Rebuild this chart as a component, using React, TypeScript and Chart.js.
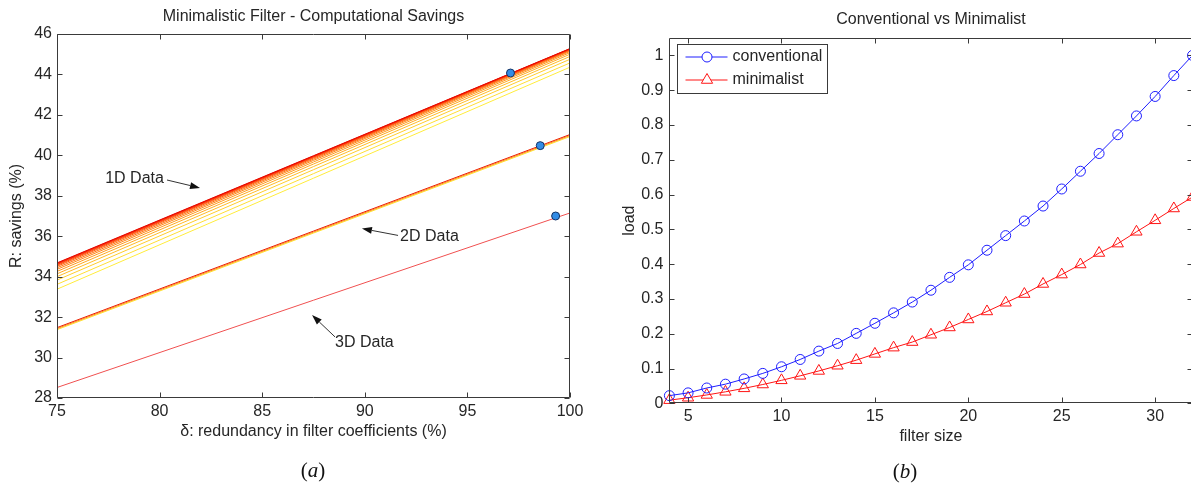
import React, { useEffect, useRef } from 'react';
import { Chart, registerables } from 'chart.js';

Chart.register(...registerables);

const FONT = "'Liberation Sans', Arial, Helvetica, sans-serif";
const TEXT = '#262626';
const FRAME = '#3a3a3a';

// ---------- Left panel (a) ----------
const titleA = 'Minimalistic Filter - Computational Savings';
const xTitleA = 'δ: redundancy in filter coefficients (%)';
const yTitleA = 'R: savings (%)';
const redundancyEnds = [75, 100];

// 1D data bundle, listed from the bottom (yellow) line to the top (red) line
const oneDStart = [33.38, 33.62, 33.83, 34.0, 34.14, 34.26, 34.36, 34.44, 34.51, 34.56, 34.6, 34.63, 34.66, 34.68];
const oneDEnd = [44.36, 44.57, 44.75, 44.89, 45.0, 45.08, 45.14, 45.18, 45.21, 45.23, 45.25, 45.26, 45.27, 45.28];
const oneDColors = [
  'rgb(255,236,60)', 'rgb(255,222,52)', 'rgb(255,205,45)', 'rgb(255,188,40)', 'rgb(255,170,34)',
  'rgb(255,152,28)', 'rgb(255,134,23)', 'rgb(255,116,18)', 'rgb(255,98,14)', 'rgb(255,80,10)',
  'rgb(255,62,6)', 'rgb(250,44,4)', 'rgb(240,26,2)', 'rgb(230,10,0)',
];

// 2D data bundle
const twoDStart = [31.38, 31.43, 31.48];
const twoDEnd = [40.93, 40.98, 41.03];
const twoDColors = ['rgb(255,225,40)', 'rgb(255,140,20)', 'rgb(235,30,0)'];

// 3D data
const threeDStart = [28.52];
const threeDEnd = [37.15];
const threeDColors = ['rgb(240,80,80)'];

// highlighted points
const dotRedundancy = [97.1, 98.55, 99.3];
const dotSavings = [44.07, 40.48, 37.0];

// annotations (data coordinates)
const noteLabels = ['1D Data', '2D Data', '3D Data'];
const noteTextX = [77.35, 91.72, 88.55];
const noteTextY = [38.83, 35.96, 30.72];
const noteTailX = [80.36, 91.62, 88.55];
const noteTailY = [38.78, 36.04, 31.02];
const noteHeadX = [81.97, 89.86, 87.43];
const noteHeadY = [38.39, 36.38, 32.1];

// ---------- Right panel (b) ----------
const titleB = 'Conventional vs Minimalist';
const xTitleB = 'filter size';
const yTitleB = 'load';
const filterSizes = [4, 5, 6, 7, 8, 9, 10, 11, 12, 13, 14, 15, 16, 17, 18, 19, 20, 21, 22, 23, 24, 25, 26, 27, 28, 29, 30, 31, 32];
const conventionalLoad = [0.022, 0.03, 0.044, 0.055, 0.07, 0.086, 0.105, 0.126, 0.15, 0.172, 0.201, 0.23, 0.26, 0.291, 0.325, 0.362, 0.398, 0.44, 0.482, 0.524, 0.567, 0.616, 0.667, 0.718, 0.772, 0.826, 0.882, 0.942, 1.0];
const minimalistLoad = [0.009, 0.016, 0.024, 0.033, 0.043, 0.054, 0.066, 0.079, 0.093, 0.108, 0.124, 0.142, 0.16, 0.176, 0.197, 0.218, 0.241, 0.264, 0.289, 0.314, 0.343, 0.37, 0.399, 0.432, 0.459, 0.493, 0.526, 0.56, 0.593];
const seriesNames = ['conventional', 'minimalist'];
const BLUE = 'rgb(30,30,255)';
const RED = 'rgb(255,20,20)';

const font16 = { family: FONT, size: 16, weight: 'normal' as const };

const framePlugin = {
  id: 'matlabFrame',
  afterDatasetsDraw(chart: any) {
    const { ctx, chartArea } = chart;
    const xs = chart.scales.x;
    const ys = chart.scales.y;
    const L = Math.round(chartArea.left) + 0.5;
    const R = Math.round(chartArea.right) - 0.5;
    const T = Math.round(chartArea.top) + 0.5;
    const B = Math.round(chartArea.bottom) - 0.5;
    const tl = 5;
    ctx.save();
    ctx.strokeStyle = FRAME;
    ctx.lineWidth = 1;
    ctx.beginPath();
    ctx.rect(L, T, R - L, B - T);
    xs.ticks.forEach((t: any) => {
      const px = Math.round(xs.getPixelForValue(t.value)) + 0.5;
      ctx.moveTo(px, B);
      ctx.lineTo(px, B - tl);
      ctx.moveTo(px, T);
      ctx.lineTo(px, T + tl);
    });
    ys.ticks.forEach((t: any) => {
      const py = Math.round(ys.getPixelForValue(t.value)) + 0.5;
      ctx.moveTo(L, py);
      ctx.lineTo(L + tl, py);
      ctx.moveTo(R, py);
      ctx.lineTo(R - tl, py);
    });
    ctx.stroke();
    ctx.restore();
  },
};

function drawArrow(ctx: CanvasRenderingContext2D, x1: number, y1: number, x2: number, y2: number) {
  const ang = Math.atan2(y2 - y1, x2 - x1);
  const len = 10;
  const w = 3.5;
  const bx = x2 - len * Math.cos(ang);
  const by = y2 - len * Math.sin(ang);
  ctx.beginPath();
  ctx.moveTo(x1, y1);
  ctx.lineTo(bx, by);
  ctx.stroke();
  ctx.beginPath();
  ctx.moveTo(x2, y2);
  ctx.lineTo(bx + w * Math.sin(ang), by - w * Math.cos(ang));
  ctx.lineTo(bx - w * Math.sin(ang), by + w * Math.cos(ang));
  ctx.closePath();
  ctx.fill();
}

const notesPlugin = {
  id: 'arrowNotes',
  afterDatasetsDraw(chart: any) {
    const { ctx } = chart;
    const xs = chart.scales.x;
    const ys = chart.scales.y;
    ctx.save();
    ctx.font = `16px ${FONT}`;
    ctx.fillStyle = TEXT;
    ctx.textAlign = 'left';
    ctx.textBaseline = 'middle';
    noteLabels.forEach((label, i) => {
      ctx.fillStyle = TEXT;
      ctx.fillText(label, xs.getPixelForValue(noteTextX[i]), ys.getPixelForValue(noteTextY[i]));
      ctx.strokeStyle = '#333';
      ctx.fillStyle = '#111';
      ctx.lineWidth = 1;
      drawArrow(
        ctx,
        xs.getPixelForValue(noteTailX[i]),
        ys.getPixelForValue(noteTailY[i]),
        xs.getPixelForValue(noteHeadX[i]),
        ys.getPixelForValue(noteHeadY[i])
      );
    });
    ctx.restore();
  },
};

const legendPlugin = {
  id: 'boxLegend',
  afterDraw(chart: any) {
    const { ctx, chartArea } = chart;
    const bx = Math.round(chartArea.left + 8) + 0.5;
    const by = Math.round(chartArea.top + 6) + 0.5;
    ctx.save();
    ctx.fillStyle = '#fff';
    ctx.fillRect(bx, by, 150, 49);
    ctx.strokeStyle = FRAME;
    ctx.lineWidth = 1;
    ctx.strokeRect(bx, by, 150, 49);
    chart.data.datasets.forEach((ds: any, i: number) => {
      const cy = by + 12.5 + i * 23;
      ctx.strokeStyle = ds.borderColor;
      ctx.lineWidth = 1;
      ctx.beginPath();
      ctx.moveTo(bx + 8, cy);
      ctx.lineTo(bx + 50, cy);
      ctx.stroke();
      const mx = bx + 29.5;
      ctx.beginPath();
      if (ds.pointStyle === 'triangle') {
        const r = ds.pointRadius;
        ctx.moveTo(mx, cy - r);
        ctx.lineTo(mx + r * Math.sin((2 * Math.PI) / 3), cy - r * Math.cos((2 * Math.PI) / 3));
        ctx.lineTo(mx + r * Math.sin((4 * Math.PI) / 3), cy - r * Math.cos((4 * Math.PI) / 3));
        ctx.closePath();
      } else {
        ctx.arc(mx, cy, ds.pointRadius, 0, Math.PI * 2);
      }
      ctx.fillStyle = '#fff';
      ctx.fill();
      ctx.stroke();
      ctx.fillStyle = TEXT;
      ctx.font = `16px ${FONT}`;
      ctx.textAlign = 'left';
      ctx.textBaseline = 'middle';
      ctx.fillText(ds.label, bx + 55, cy);
    });
    ctx.restore();
  },
};

function lineSet(label: string, start: number, end: number, color: string) {
  return {
    label,
    data: [
      { x: redundancyEnds[0], y: start },
      { x: redundancyEnds[1], y: end },
    ],
    showLine: true,
    borderColor: color,
    backgroundColor: color,
    borderWidth: 1,
    pointRadius: 0,
  };
}

export default function App() {
  const leftRef = useRef<HTMLCanvasElement>(null);
  const rightRef = useRef<HTMLCanvasElement>(null);

  useEffect(() => {
    // paint order: bottom first, then reversed so that later ones sit on top
    const paint: any[] = [];
    threeDStart.forEach((s, i) => paint.push(lineSet('3D', s, threeDEnd[i], threeDColors[i])));
    twoDStart.forEach((s, i) => paint.push(lineSet('2D', s, twoDEnd[i], twoDColors[i])));
    oneDStart.forEach((s, i) => paint.push(lineSet('1D', s, oneDEnd[i], oneDColors[i])));
    paint.push({
      label: 'points',
      data: dotRedundancy.map((x, i) => ({ x, y: dotSavings[i] })),
      showLine: false,
      pointRadius: 4,
      pointBackgroundColor: 'rgb(50,140,230)',
      pointBorderColor: 'rgb(20,50,100)',
      pointBorderWidth: 1,
    });
    const leftDatasets = paint.reverse();

    const left = new Chart(leftRef.current as HTMLCanvasElement, {
      type: 'scatter',
      data: { datasets: leftDatasets },
      options: {
        responsive: false,
        animation: false,
        devicePixelRatio: 1,
        events: [],
        layout: { padding: { left: 0, right: 30, top: 0, bottom: 0 } },
        plugins: {
          legend: { display: false },
          tooltip: { enabled: false },
          title: {
            display: true,
            text: titleA,
            fullSize: false,
            font: font16,
            color: TEXT,
            padding: { top: 7.4, bottom: 7.4 },
          },
        },
        scales: {
          x: {
            type: 'linear',
            min: 75,
            max: 100,
            ticks: { stepSize: 5, padding: 4, font: font16, color: TEXT, maxRotation: 0 },
            grid: { display: false, drawTicks: false },
            border: { display: false },
            title: { display: true, text: xTitleA, font: font16, color: TEXT, padding: { top: 0, bottom: 44.4 } },
            afterFit: (s: any) => {
              s.height = 88;
            },
          },
          y: {
            type: 'linear',
            min: 28,
            max: 46,
            ticks: { stepSize: 2, padding: 5, font: font16, color: TEXT },
            grid: { display: false, drawTicks: false },
            border: { display: false },
            title: { display: true, text: yTitleA, font: font16, color: TEXT, padding: { top: 7.4, bottom: 0 } },
            afterFit: (s: any) => {
              s.width = 57;
            },
          },
        },
      },
      plugins: [framePlugin, notesPlugin],
    } as any);

    const right = new Chart(rightRef.current as HTMLCanvasElement, {
      type: 'scatter',
      data: {
        datasets: [
          {
            label: seriesNames[0],
            data: filterSizes.map((x, i) => ({ x, y: conventionalLoad[i] })),
            showLine: true,
            borderColor: BLUE,
            backgroundColor: 'rgba(0,0,0,0)',
            borderWidth: 1,
            pointStyle: 'circle',
            pointRadius: 5,
            pointBorderColor: BLUE,
            pointBackgroundColor: 'rgba(0,0,0,0)',
            pointBorderWidth: 1,
            clip: false,
          },
          {
            label: seriesNames[1],
            data: filterSizes.map((x, i) => ({ x, y: minimalistLoad[i] })),
            showLine: true,
            borderColor: RED,
            backgroundColor: 'rgba(0,0,0,0)',
            borderWidth: 1,
            pointStyle: 'triangle',
            pointRadius: 6.5,
            pointBorderColor: RED,
            pointBackgroundColor: 'rgba(0,0,0,0)',
            pointBorderWidth: 1,
            clip: false,
          },
        ],
      },
      options: {
        responsive: false,
        animation: false,
        devicePixelRatio: 1,
        events: [],
        layout: { padding: { left: 0, right: 4.5, top: 0, bottom: 0 } },
        plugins: {
          legend: { display: false },
          tooltip: { enabled: false },
          title: {
            display: true,
            text: titleB,
            fullSize: false,
            font: font16,
            color: TEXT,
            padding: { top: 10.4, bottom: 8.4 },
          },
        },
        scales: {
          x: {
            type: 'linear',
            min: 4,
            max: 32,
            ticks: { stepSize: 5, includeBounds: false, padding: 4, font: font16, color: TEXT, maxRotation: 0 },
            grid: { display: false, drawTicks: false },
            border: { display: false },
            title: { display: true, text: xTitleB, font: font16, color: TEXT, padding: { top: 0, bottom: 39.4 } },
            afterFit: (s: any) => {
              s.height = 82.7;
            },
          },
          y: {
            type: 'linear',
            min: 0,
            max: 1.05,
            ticks: {
              stepSize: 0.1,
              includeBounds: false,
              padding: 6,
              font: font16,
              color: TEXT,
              callback: (v: any) => String(Math.round(Number(v) * 10) / 10),
            },
            grid: { display: false, drawTicks: false },
            border: { display: false },
            title: { display: true, text: yTitleB, font: font16, color: TEXT, padding: { top: 20.4, bottom: 0 } },
            afterFit: (s: any) => {
              s.width = 69.4;
            },
          },
        },
      },
      plugins: [framePlugin, legendPlugin],
    } as any);

    return () => {
      left.destroy();
      right.destroy();
    };
  }, []);

  const captionStyle: React.CSSProperties = {
    position: 'absolute',
    transform: 'translate(-50%, -50%)',
    fontFamily: "'Liberation Serif', 'DejaVu Serif', serif",
    fontSize: 21,
    color: '#111',
    whiteSpace: 'nowrap',
    lineHeight: 1,
  };

  return (
    <div
      style={{
        position: 'fixed',
        left: 0,
        top: 0,
        width: 1191,
        height: 486,
        overflow: 'hidden',
        background: '#fff',
      }}
    >
      <canvas ref={leftRef} width={600} height={486} style={{ position: 'absolute', left: 0, top: 0 }} />
      <canvas ref={rightRef} width={600} height={486} style={{ position: 'absolute', left: 600, top: 0 }} />
      <div style={{ ...captionStyle, left: 313, top: 470 }}>
        (<i>a</i>)
      </div>
      <div style={{ ...captionStyle, left: 905, top: 471 }}>
        (<i>b</i>)
      </div>
    </div>
  );
}
